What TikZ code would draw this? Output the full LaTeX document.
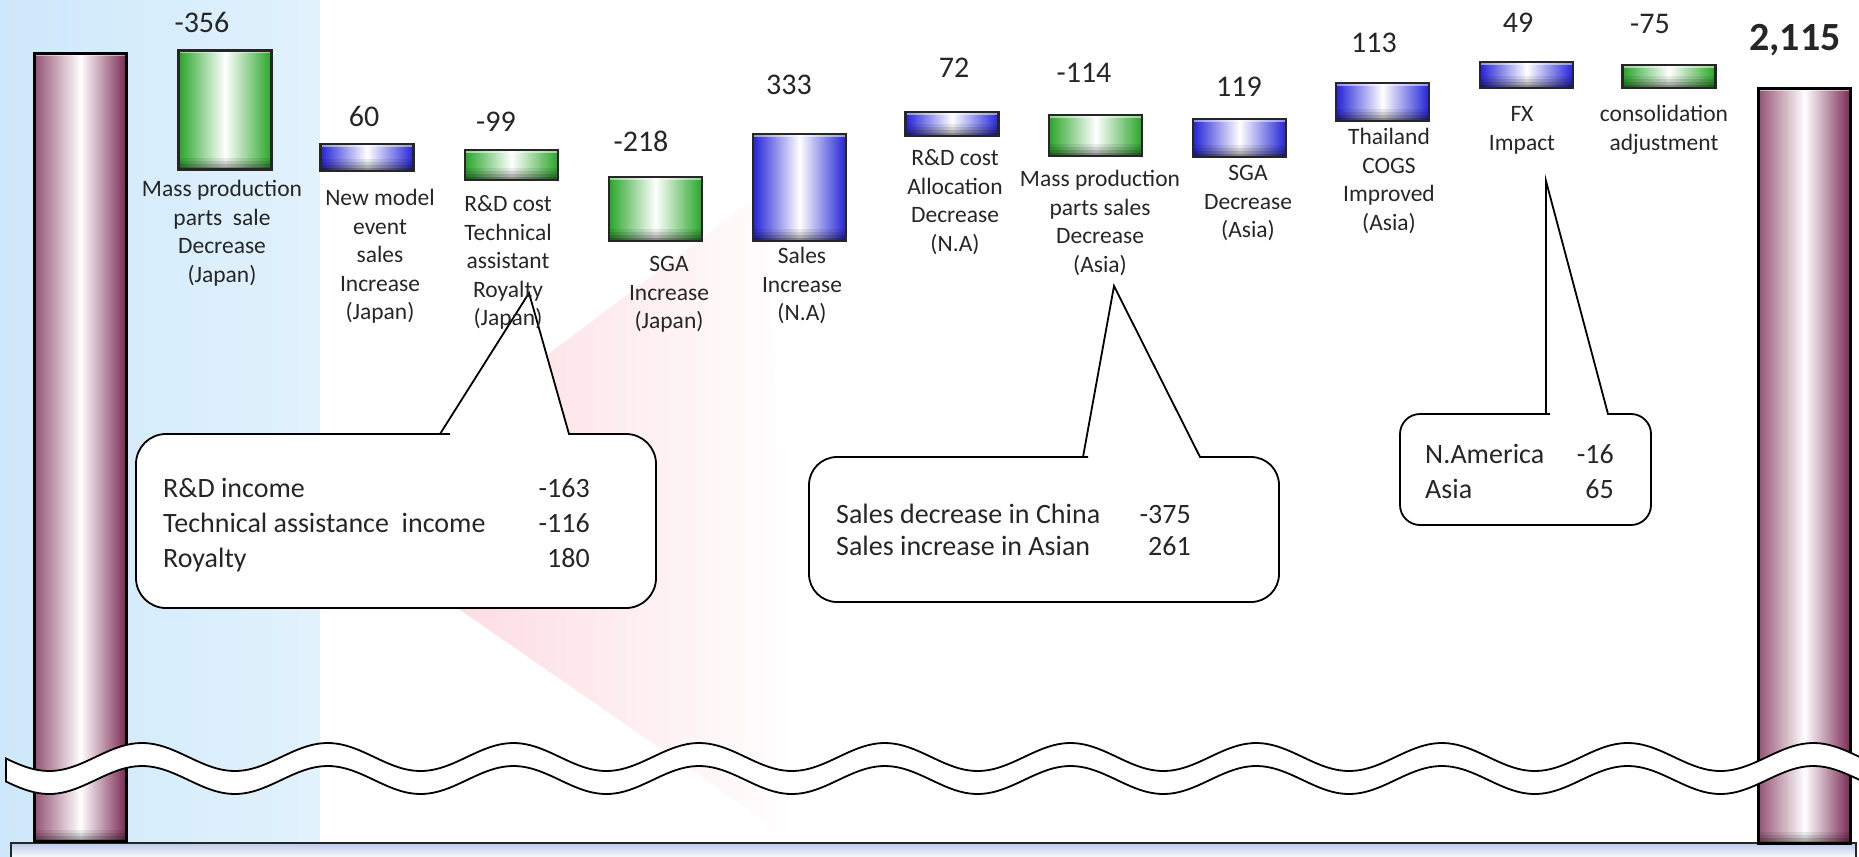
\documentclass[tikz,border=0pt]{standalone}
\usepackage{fontspec}
\setmainfont{Carlito}
\usepackage{tikz}
\definecolor{skyblue}{RGB}{205,232,250}
\definecolor{skyfade}{RGB}{226,242,253}
\definecolor{rosy}{RGB}{252,208,216}
\definecolor{plum}{RGB}{122,40,82}
\definecolor{barblue}{RGB}{35,35,215}
\definecolor{bargreen}{RGB}{40,165,40}
\definecolor{ink}{RGB}{38,38,38}
\definecolor{railblue}{RGB}{185,202,235}
\tikzstyle{bevel} = [path picture={
    \foreach \lo/\hi/\op in {0/3/.45, 3/6/.3, 6/9/.18, 9/12/.08}
        \fill[black, opacity=\op] ([yshift=\lo pt]path picture bounding box.south west) rectangle ([yshift=\hi pt]path picture bounding box.south east);
    \fill[white, opacity=.5] (path picture bounding box.north west) rectangle ([yshift=-3pt]path picture bounding box.north east);}]
\tikzstyle{greenbar} = [rectangle, draw=black!85, line width=2.5pt, inner sep=0pt, minimum width=93pt, left color=bargreen, right color=bargreen, middle color=white, bevel]
\tikzstyle{bluebar} = [rectangle, draw=black!85, line width=2.5pt, inner sep=0pt, minimum width=93pt, left color=barblue, right color=barblue, middle color=white, bevel]
\tikzstyle{pillar} = [rectangle, draw=black, line width=3pt, inner sep=0pt, minimum width=92pt, left color=plum!80, right color=plum, middle color=white, bevel]
\tikzstyle{value} = [font=\fontsize{30}{36}\selectfont, text=ink, anchor=base, inner sep=0pt]
\tikzstyle{caption} = [font=\fontsize{23.5}{28.5}\selectfont, text=ink, align=center, anchor=north, inner sep=0pt]
\tikzstyle{notetext} = [font=\fontsize{28}{35}\selectfont, text=ink, align=left, anchor=north west, inner sep=0pt]
\tikzstyle{notenum} = [font=\fontsize{28}{35}\selectfont, text=ink, align=right, anchor=north east, inner sep=0pt]
\tikzstyle{callout} = [draw=black, line width=1.8pt, fill=white]
\tikzstyle{ribbon} = [draw=black, line width=1.8pt, fill=white]

\begin{document}
\begin{tikzpicture}[x=1pt, y=-1pt]
    \useasboundingbox (0,0) rectangle (1859,856);
    \shade[left color=skyblue, right color=skyfade] (0,0) rectangle (320,856);
    \shade[left color=rosy, right color=white] (765,190) -- (330,520) -- (800,845) -- cycle;

    \shade[draw=black!85, line width=1.5pt, top color=railblue, bottom color=railblue, middle color=white] (11,843) rectangle (1856,874);
    \node (start) [pillar, minimum height=788pt] at (80.5,447.5) {};
    \node (total) [pillar, minimum height=755pt] at (1804.5,466) {};

    \node (b356) [greenbar, minimum height=119pt] at (225,110) {};
    \node (b60) [bluebar, minimum height=27pt] at (367,157.5) {};
    \node (b99) [greenbar, minimum height=30pt] at (511.5,165) {};
    \node (b218) [greenbar, minimum height=64pt] at (655.5,209) {};
    \node (b333) [bluebar, minimum height=107pt] at (799.5,187.5) {};
    \node (b72) [bluebar, minimum height=24pt] at (952,124) {};
    \node (b114) [greenbar, minimum height=41pt] at (1095.5,135.5) {};
    \node (b119) [bluebar, minimum height=38pt] at (1239.5,138) {};
    \node (b113) [bluebar, minimum height=38pt] at (1382.5,102) {};
    \node (b49) [bluebar, minimum height=26pt] at (1526.5,75) {};
    \node (b75) [greenbar, minimum height=23pt] at (1669,76.5) {};

    \node (v356) [value] at (202,32.5) {-356};
    \node (v60) [value] at (364,126.5) {60};
    \node (v99) [value] at (496,131.5) {-99};
    \node (v218) [value] at (641,151.5) {-218};
    \node (v333) [value] at (789,94.5) {333};
    \node (v72) [value] at (954,77.5) {72};
    \node (v114) [value] at (1084,82.5) {-114};
    \node (v119) [value] at (1239,96.5) {119};
    \node (v113) [value] at (1374,52.5) {113};
    \node (v49) [value] at (1518,32.5) {49};
    \node (v75) [value] at (1650,33.5) {-75};
    \node (vtotal) [value, font=\fontsize{40}{48}\selectfont\bfseries] at (1795,50.5) {2,115};

    \draw[ribbon] plot[domain=6:1862, samples=400] (\x, {757-14*cos(1.9386*(\x-142))})
        -- plot[domain=1862:6, samples=400] (\x, {780-14*cos(1.9386*(\x-142))}) -- cycle;

    \coordinate (tipa) at (529,293);
    \coordinate (tipb) at (1114,286);
    \coordinate (tipc) at (1546,181);
    \draw[callout] (tipa) -- (569,434) -- (600,434) [rounded corners=30pt] -- (656,434) -- (656,608) -- (136,608) -- (136,434) -- (420,434) [sharp corners] -- (440,434) -- cycle;
    \draw[callout] (tipb) -- (1200,457) -- (1230,457) [rounded corners=28pt] -- (1279,457) -- (1279,602) -- (809,602) -- (809,457) -- (1060,457) [sharp corners] -- (1083,457) -- cycle;
    \draw[callout] (tipc) -- (1608,414) -- (1625,414) [rounded corners=20pt] -- (1651,414) -- (1651,525) -- (1400,525) -- (1400,414) -- (1530,414) [sharp corners] -- (1546,414) -- cycle;

    \node (capa) [caption] at (222,176.5) {\strut Mass production\\parts\ \ sale\\Decrease\\(Japan)};
    \node (capb) [caption] at (380,185.5) {\strut New model\\event\\sales\\Increase\\(Japan)};
    \node (capc) [caption] at (508,191.5) {\strut R\&D cost\\Technical\\assistant\\Royalty\\(Japan)};
    \node (capd) [caption] at (669,251.5) {\strut SGA\\Increase\\(Japan)};
    \node (cape) [caption] at (802,243.5) {\strut Sales\\Increase\\(N.A)};
    \node (capf) [caption] at (955,145.5) {\strut R\&D cost\\Allocation\\Decrease\\(N.A)};
    \node (capg) [caption] at (1100,166.5) {\strut Mass production\\parts sales\\Decrease\\(Asia)};
    \node (caph) [caption] at (1248,160.5) {\strut SGA\\Decrease\\(Asia)};
    \node (capi) [caption] at (1389,124.5) {\strut Thailand\\COGS\\Improved\\(Asia)};
    \node (capj) [caption] at (1522,101.5) {\strut FX\\Impact};
    \node (capk) [caption] at (1664,101.5) {\strut consolidation\\adjustment};

    \node (notea) [notetext] at (163,472.5) {\strut R\&D income\\Technical assistance\ \ income\\Royalty};
    \node (numa) [notenum] at (590,472.5) {\strut -163\\-116\hspace{7pt}\\180};
    \node (noteb) [notetext, font=\fontsize{28}{32}\selectfont] at (836,500.6) {\strut Sales decrease in China\\Sales increase in Asian};
    \node (numb) [notenum, font=\fontsize{28}{32}\selectfont] at (1191,500.6) {\strut -375\\261\hspace{6pt}};
    \node (notec) [notetext] at (1425,438.5) {\strut N.America\\Asia};
    \node (numc) [notenum] at (1614,438.5) {\strut -16\\65};
\end{tikzpicture}
\end{document}
